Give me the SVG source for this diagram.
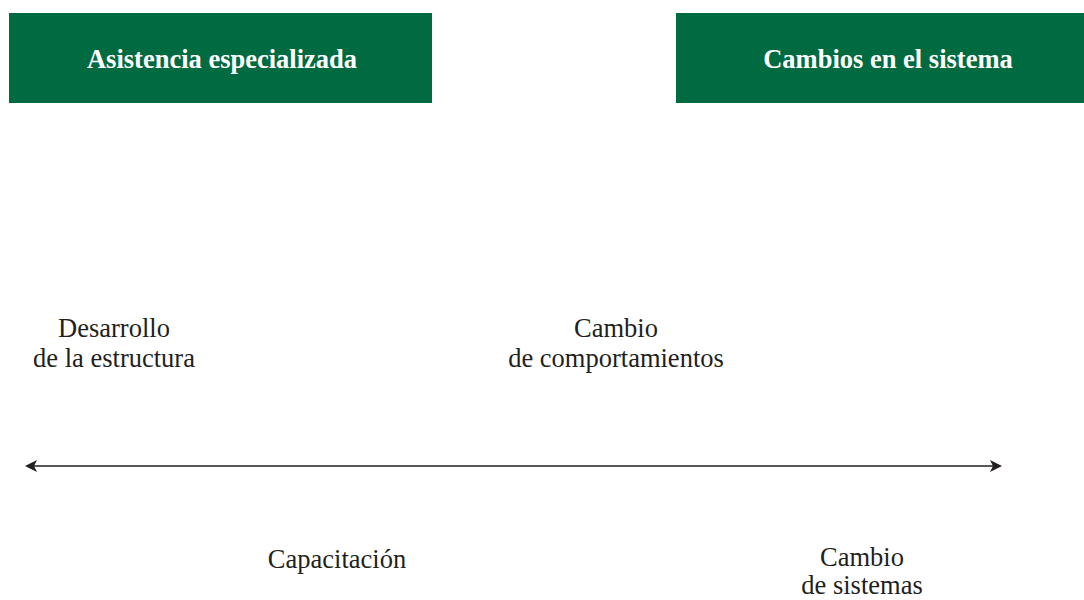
<svg xmlns="http://www.w3.org/2000/svg" width="1084" height="600" viewBox="0 0 1084 600">
<style>
.box{fill:#006a41}
.title{font-family:"Liberation Serif","Times New Roman",serif;font-weight:bold;font-size:26.5px;fill:#ffffff;text-anchor:middle}
.lbl{font-family:"Liberation Serif","Times New Roman",serif;font-size:26.5px;fill:#231f20;text-anchor:middle}
.conn{stroke:#231f20;stroke-width:1.4;fill:none}
.head{fill:#231f20}
</style>
<rect width="1084" height="600" fill="#ffffff"/>
<g id="asistencia">
<rect class="box" x="9" y="13" width="423" height="90"/>
<text class="title" x="222" y="68">Asistencia especializada</text>
</g>
<g id="cambios-sistema">
<rect class="box" x="676" y="13" width="408" height="90"/>
<text class="title" x="888" y="68">Cambios en el sistema</text>
</g>
<g id="desarrollo">
<text class="lbl" x="114" y="337">Desarrollo</text>
<text class="lbl" x="114" y="367">de la estructura</text>
</g>
<g id="comportamientos">
<text class="lbl" x="616" y="337">Cambio</text>
<text class="lbl" x="616" y="367">de comportamientos</text>
</g>
<g id="capacitacion">
<text class="lbl" x="337" y="568">Capacitación</text>
</g>
<g id="cambio-sistemas">
<text class="lbl" x="862" y="566">Cambio</text>
<text class="lbl" x="862" y="594">de sistemas</text>
</g>
<g id="connectors">
<line class="conn" x1="32" y1="466" x2="995" y2="466"/>
<path class="head" d="M25,466 L37,460 L34,466 L37,472 Z"/>
<path class="head" d="M1002,466 L990,460 L993,466 L990,472 Z"/>
</g>
</svg>
